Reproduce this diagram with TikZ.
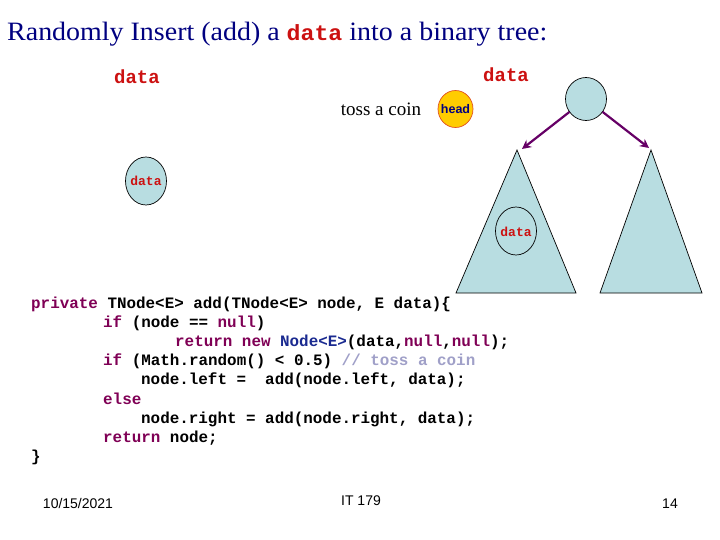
\documentclass[tikz,border=0pt]{standalone}
\usepackage{fontspec}
\setmainfont{Liberation Serif}
\newfontfamily\codefont{Liberation Mono}
\newfontfamily\arialfont{Liberation Sans}
\usetikzlibrary{arrows.meta,calc}
\definecolor{titleblue}{HTML}{000080}
\definecolor{datared}{HTML}{CC1111}
\definecolor{treefill}{HTML}{B8DDE1}
\definecolor{kw}{HTML}{7F0055}
\definecolor{typeblue}{HTML}{1A2A90}
\definecolor{cmt}{HTML}{A0A0C8}
\definecolor{arrowpurple}{HTML}{660066}
\definecolor{coinfill}{HTML}{FFCC00}
\definecolor{coinedge}{HTML}{E05020}
\tikzset{
  txt/.style={inner sep=0pt, anchor=base west},
  codeline/.style={inner sep=0pt, anchor=base west, font=\fontsize{15.9}{18}\selectfont\codefont\bfseries},
  reddata/.style={inner sep=0pt, text=datared, font=\fontsize{19}{22}\selectfont\codefont\bfseries},
  tree/.style={draw=black, fill=treefill, line width=0.7pt},
  ptr/.style={draw=arrowpurple, line width=2.2pt, -{Stealth[length=9pt,width=9pt]}},
  foot/.style={inner sep=0pt, font=\fontsize{14}{16}\selectfont\arialfont}
}
\begin{document}
\begin{tikzpicture}[x=1pt,y=-1pt]
\useasboundingbox (0,0) rectangle (720,540);
% title
\node[txt, text=titleblue, font=\fontsize{26.5}{30}\selectfont] (title) at (7,41)
  {\scalebox{1.055}[1]{Randomly Insert (add) a {\fontsize{22}{26}\selectfont\codefont\bfseries\color{datared}data} into a binary tree:}};
% data labels
\node[reddata] (d1) at (137,77) {data};
\node[reddata] (d2) at (506,75) {data};
\node[inner sep=0pt, font=\fontsize{19}{21}\selectfont] (toss) at (381,109) {toss a coin};
% coin
\draw[fill=coinfill, draw=coinedge, line width=0.7pt] (455.5,109) ellipse [x radius=17.5, y radius=18.5];
\node[inner sep=0pt, text=titleblue, font=\fontsize{12.5}{14}\selectfont\arialfont\bfseries] (head) at (455.5,109) {head};
% trees
\draw[tree] (517,150) -- (576,293) -- (456,293) -- cycle;
\draw[tree] (651,150) -- (702,293) -- (600,293) -- cycle;
% root
\draw[tree] (586,99) ellipse [x radius=20.5, y radius=21.5];
\coordinate (root) at (586,99);
\coordinate (ltip) at (522,149);
\coordinate (rtip) at (649,148);
\draw[ptr] ($(root)!21pt!(ltip)$) -- (ltip);
\draw[ptr] ($(root)!21pt!(rtip)$) -- (rtip);
% data circles
\draw[tree] (146,181) ellipse [x radius=20.5, y radius=24];
\node[inner sep=0pt, text=datared, font=\fontsize{13}{14}\selectfont\codefont\bfseries] (c1) at (146,181) {data};
\draw[tree] (516,231) ellipse [x radius=20.5, y radius=24];
\node[inner sep=0pt, text=datared, font=\fontsize{13}{14}\selectfont\codefont\bfseries] (c2) at (516,232) {data};
% code
\node[codeline] (l1) at (31,308) {\textcolor{kw}{private} TNode<E> add(TNode<E> node, E data)\{};
\node[codeline] (l2) at (103,327) {\textcolor{kw}{if} (node == \textcolor{kw}{null})};
\node[codeline] (l3) at (175,346) {\textcolor{kw}{return new} \textcolor{typeblue}{Node<E>}(data,\textcolor{kw}{null},\textcolor{kw}{null});};
\node[codeline] (l4) at (103,365) {\textcolor{kw}{if} (Math.random() < 0.5) \textcolor{cmt}{// toss a coin}};
\node[codeline] (l5) at (141,384) {node.left = \ add(node.left, data);};
\node[codeline] (l6) at (103,404) {\textcolor{kw}{else}};
\node[codeline] (l7) at (141,423) {node.right = add(node.right, data);};
\node[codeline] (l8) at (103,442) {\textcolor{kw}{return} node;};
\node[codeline] (l9) at (31,461) {\}};
% footer
\node[foot] (date) at (78,503) {10/15/2021};
\node[foot] (course) at (361,501) {IT 179};
\node[foot] (page) at (670,504) {14};
\end{tikzpicture}
\end{document}
